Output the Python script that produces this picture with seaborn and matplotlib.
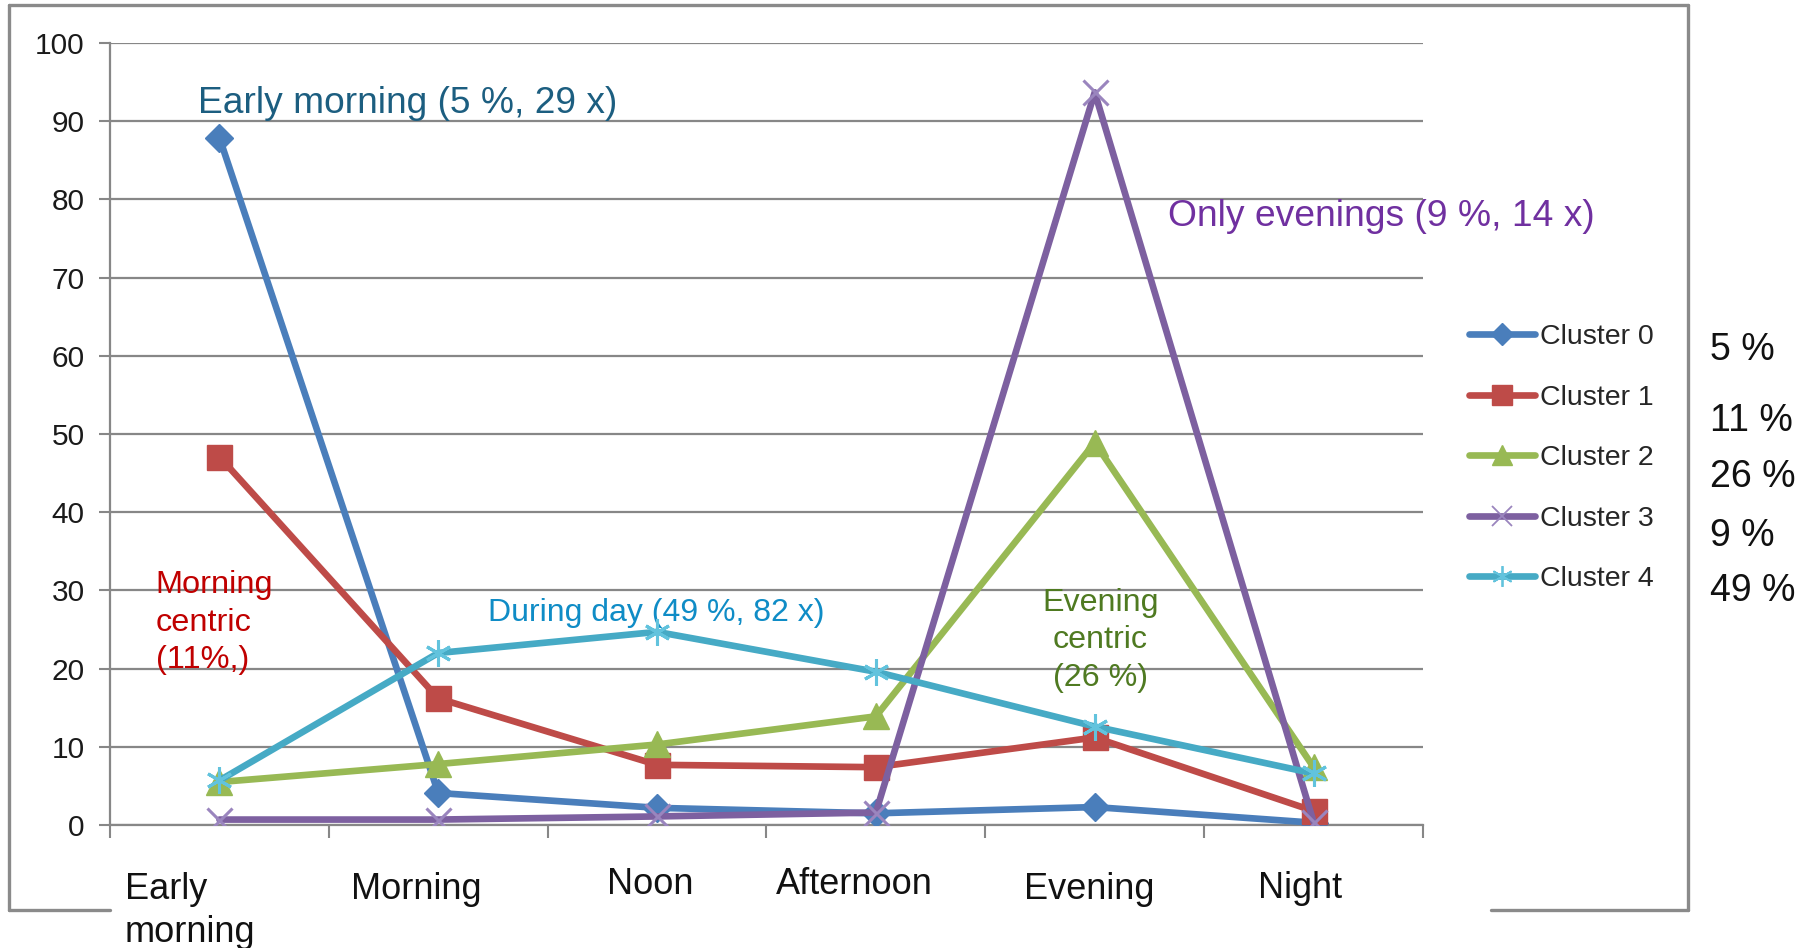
import matplotlib.pyplot as plt
import matplotlib.transforms as mtransforms
import numpy as np
import pandas as pd
import seaborn as sns
from matplotlib.lines import Line2D

# values
periods = ['Early\nmorning', 'Morning', 'Noon', 'Afternoon', 'Evening', 'Night']
clusters = ['Cluster 0', 'Cluster 1', 'Cluster 2', 'Cluster 3', 'Cluster 4']
cluster_0 = [87.9, 4.1, 2.2, 1.5, 2.3, 0.3]
cluster_1 = [47.1, 16.2, 7.7, 7.4, 11.2, 1.8]
cluster_2 = [5.5, 7.8, 10.3, 13.9, 48.9, 7.4]
cluster_3 = [0.7, 0.7, 1.1, 1.6, 93.7, 0.4]
cluster_4 = [5.7, 22.0, 24.7, 19.6, 12.6, 6.6]
shares = ['5 %', '11 %', '26 %', '9 %', '49 %']

LINE_COLORS = ['#4A7EBB', '#BE4B48', '#98B954', '#7D60A0', '#46AAC5']
EDGE_COLORS = ['#4A7EBB', '#BE4B48', '#98B954', '#9A85BE', '#62C3DD']
MARKERS = ['D', 's', '^', 'x', (6, 2, 0)]
MSIZES = [14, 18, 19, 18, 19]
LEG_MSIZES = [11, 14, 14, 15, 15]
GRID = '#878787'
ARIAL = ['Liberation Sans', 'DejaVu Sans']

# small nudges (points) for the category labels, as placed in the original
LABEL_SHIFT = [(-21.2, 0), (-15.5, 0), (-5, 3), (-15.8, 3), (-4, 0), (-9.4, 0.5)]


def build_frame():
    rows = []
    for name, vals in zip(clusters, [cluster_0, cluster_1, cluster_2, cluster_3, cluster_4]):
        for i, v in enumerate(vals):
            rows.append((name, i, v))
    return pd.DataFrame(rows, columns=['cluster', 'slot', 'value'])


def draw(df):
    sns.set_theme(style='white')
    plt.rcParams['font.family'] = ARIAL

    fig = plt.figure(figsize=(18.09, 9.48), dpi=100)
    ax = fig.add_axes([0.0608, 0.1297, 0.7258, 0.8249])

    for k, name in enumerate(clusters):
        sub = df[df['cluster'] == name]
        sns.lineplot(data=sub, x='slot', y='value', ax=ax, color=LINE_COLORS[k],
                     linewidth=4.8, marker=MARKERS[k], markersize=MSIZES[k],
                     markerfacecolor=LINE_COLORS[k], markeredgecolor=EDGE_COLORS[k],
                     markeredgewidth=2.2 if k >= 3 else 1.0, label=name,
                     legend=False, zorder=3 + k)

    ax.set_xlim(-0.5, 5.5)
    ax.set_ylim(0, 100)
    ax.set_xlabel(''); ax.set_ylabel('')

    ax.set_yticks(np.arange(0, 101, 10))
    ax.set_yticklabels([str(v) for v in range(0, 101, 10)], fontsize=21.5, color='#1a1a1a')
    ax.tick_params(axis='y', length=8, width=1.5, color=GRID, pad=10.3, left=True)
    ax.yaxis.grid(True, color=GRID, linewidth=1.6)
    ax.set_axisbelow(True)

    ax.set_xticks(np.arange(len(periods)))
    ax.set_xticklabels(periods, fontsize=26, color='#111111', linespacing=1.3)
    ax.set_xticks(np.arange(-0.5, len(periods)), minor=True)
    ax.tick_params(axis='x', which='major', length=0, pad=33.5)
    ax.tick_params(axis='x', which='minor', length=9, width=1.5, color=GRID, bottom=True)
    for lab, (dx, dy) in zip(ax.get_xticklabels(), LABEL_SHIFT):
        lab.set_transform(lab.get_transform() +
                          mtransforms.ScaledTranslation(dx / 72, dy / 72, fig.dpi_scale_trans))
    ax.get_xticklabels()[0].set_multialignment('left')

    for s in ('top', 'right'):
        ax.spines[s].set_visible(False)
    for s in ('left', 'bottom'):
        ax.spines[s].set_color(GRID)
        ax.spines[s].set_linewidth(1.6)

    # annotations
    ax.text(-0.096, 92.25, 'Early morning (5 %, 29 x)', fontsize=26.7, color='#1C5E80', va='center')
    ax.text(4.333, 77.85, 'Only evenings (9 %, 14 x)', fontsize=26.8, color='#7030A0', va='center')
    ax.text(-0.291, 25.9, 'Morning\ncentric\n(11%,)', fontsize=23.4, color='#C00000', va='center',
            linespacing=1.32)
    ax.text(1.227, 27.15, 'During day (49 %, 82 x)', fontsize=23, color='#0F8CC6', va='center')
    ax.text(4.027, 23.6, 'Evening\ncentric\n(26 %)', fontsize=23.2, color='#4F7A21', va='center',
            ha='center', linespacing=1.32)

    # legend
    handles = [Line2D([0], [0], color=LINE_COLORS[k], lw=4.8, marker=MARKERS[k],
                      markersize=LEG_MSIZES[k], markerfacecolor=LINE_COLORS[k],
                      markeredgecolor=EDGE_COLORS[k], markeredgewidth=1.3 if k >= 3 else 1.0)
               for k in range(len(clusters))]
    fig.legend(handles, clusters, loc='upper left', bbox_to_anchor=(0.8043, 0.673),
               frameon=False, borderpad=0, handlelength=2.3, handletextpad=0.2,
               labelspacing=1.21, prop={'size': 20.5})

    # share labels outside the frame
    for lab, yf in zip(shares, [0.6308, 0.5558, 0.4968, 0.4348, 0.3765]):
        fig.text(0.9453, yf, lab, fontsize=27, va='center', ha='left', color='#111111')

    # outer chart frame (bottom edge broken by the category labels)
    fc = '#8A8A8A'
    x0, x1, y0, y1 = 0.005, 0.9331, 0.040, 0.9947
    for xs, ys in [([x0, x1], [y1, y1]), ([x0, x0], [y0, y1]), ([x1, x1], [y0, y1]),
                   ([x0, 0.0608], [y0, y0]), ([0.824, x1], [y0, y0])]:
        fig.add_artist(Line2D(xs, ys, transform=fig.transFigure, color=fc, lw=2.4))

    fig.savefig('out.png', dpi=100)
    plt.close(fig)


def main():
    df = build_frame()
    draw(df)


if __name__ == '__main__':
    main()
